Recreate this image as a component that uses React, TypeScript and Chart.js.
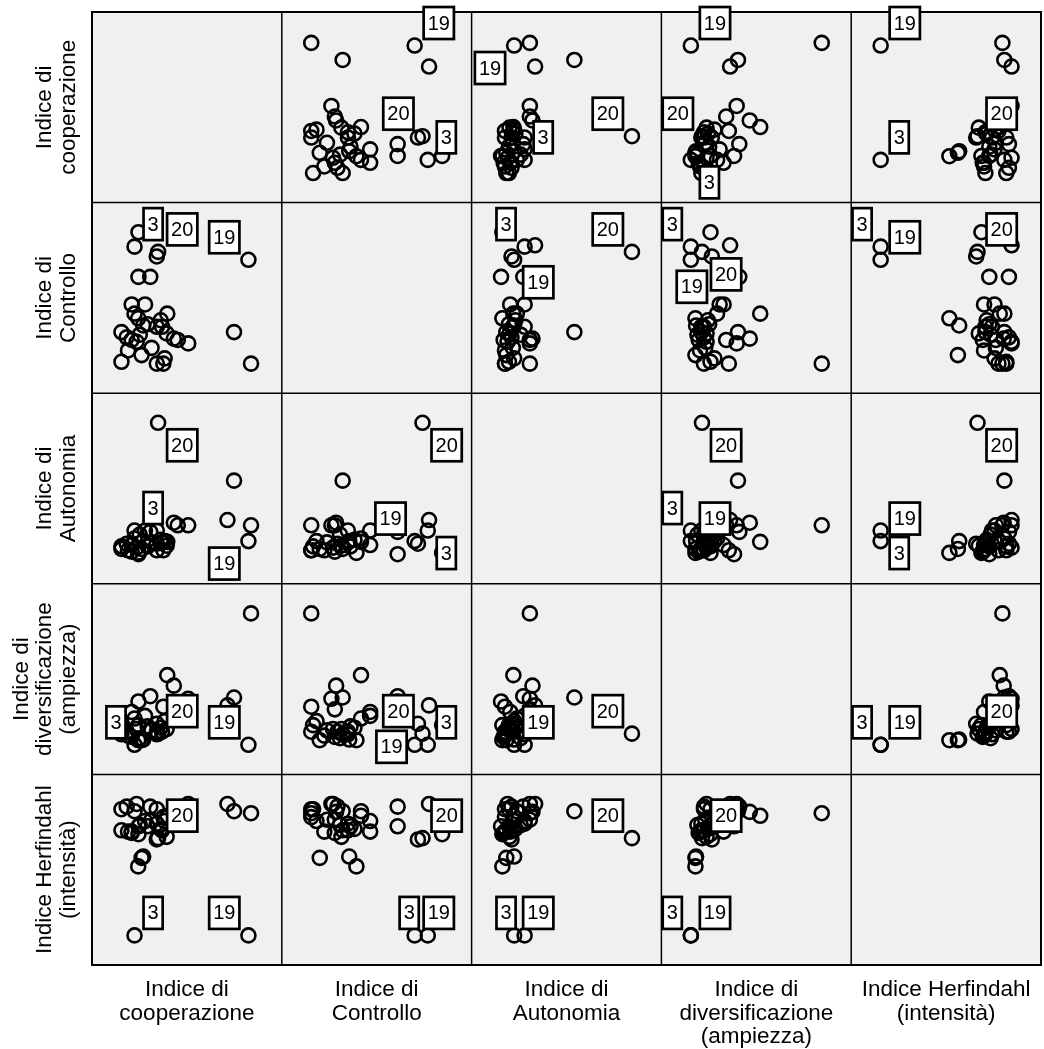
import React, { useEffect, useRef } from 'react';
import { Chart, registerables } from 'chart.js';

Chart.register(...registerables);

// ---- Data: one value per case (cases 1..36), normalised index values ----
const caseNumbers = [
  1, 2, 3, 4, 5, 6, 7, 8, 9, 10, 11, 12, 13, 14, 15, 16, 17, 18,
  19, 20, 21, 22, 23, 24, 25, 26, 27, 28, 29, 30, 31, 32, 33, 34, 35, 36,
];

const cooperazione = [
  0.51, 0.32, 0.10, 0.345, 0.99, 0.154, 0.00, 0.13, 0.31, 0.128, 0.27, 0.86,
  0.04, 0.18, 0.43, 0.00, 0.22, 0.166, 0.97, 0.28, 0.35, 0.33, 0.116, 0.13,
  0.40, 0.27, 0.078, 0.10, 0.81, 0.27, 0.078, 0.20, 0.05, 0.23, 0.14, 0.30,
];

const controllo = [
  0.154, 0.00, 0.89, 0.23, 0.00, 0.065, 0.24, 1.00, 0.28, 0.345, 0.28, 0.24,
  0.20, 0.45, 0.18, 0.014, 0.66, 0.29, 0.79, 0.85, 0.38, 0.04, 0.166, 0.66,
  0.19, 0.815, 0.18, 0.38, 0.90, 0.00, 0.45, 0.30, 0.10, 0.12, 0.22, 0.33,
];

const autonomia = [
  0.22, 0.03, 0.18, 0.065, 0.22, 0.04, 0.04, 0.01, 0.09, 0.01, 0.18, 0.56,
  0.08, 0.18, 0.22, 0.06, 0.17, 0.10, 0.10, 1.00, 0.094, 0.10, 0.05, 0.00,
  0.24, 0.08, 0.02, 0.12, 0.26, 0.03, 0.07, 0.06, 0.03, 0.09, 0.15, 0.11,
];

const diversificazione = [
  0.35, 0.29, 0.00, 0.12, 1.00, 0.035, 0.08, 0.15, 0.10, 0.035, 0.08, 0.36,
  0.10, 0.22, 0.27, 0.15, 0.37, 0.04, 0.00, 0.085, 0.53, 0.18, 0.12, 0.33,
  0.45, 0.16, 0.06, 0.20, 0.30, 0.10, 0.25, 0.14, 0.07, 0.11, 0.05, 0.13,
];

const herfindahl = [
  1.00, 0.90, 0.00, 0.75, 0.93, 0.59, 0.80, 0.77, 0.80, 0.525, 0.85, 0.945,
  0.98, 0.87, 0.88, 0.96, 0.98, 0.60, 0.00, 0.74, 0.91, 0.87, 1.00, 0.83,
  0.94, 0.73, 0.78, 0.945, 1.00, 0.96, 0.79, 0.83, 0.79, 0.88, 0.84, 0.81,
];

const labelledCases = [3, 19, 20];

const columnTitles = [
  ['Indice di', 'cooperazione', ''],
  ['Indice di', 'Controllo', ''],
  ['Indice di', 'Autonomia', ''],
  ['Indice di', 'diversificazione', '(ampiezza)'],
  ['Indice Herfindahl', '(intensità)', ''],
];

const rowTitles = [
  ['', 'Indice di', 'cooperazione'],
  ['', 'Indice di', 'Controllo'],
  ['', 'Indice di', 'Autonomia'],
  ['Indice di', 'diversificazione', '(ampiezza)'],
  ['', 'Indice Herfindahl', '(intensità)'],
];

// where each case label box sits relative to its point, per cell "row-col"
const labelPlacement: Record<string, Record<number, string>> = {
  '0-1': { 19: 'ur', 20: 'ul', 3: 'ur' },
  '0-2': { 19: 'll', 20: 'ul', 3: 'ur' },
  '0-3': { 19: 'ur', 20: 'ul', 3: 'lr' },
  '0-4': { 19: 'ur', 20: 'ur', 3: 'ur' },
  '1-0': { 3: 'ur', 20: 'ur', 19: 'ul' },
  '1-2': { 3: 'ul', 20: 'ul', 19: 'lr' },
  '1-3': { 3: 'ul', 20: 'lr', 19: 'd' },
  '1-4': { 3: 'ul', 19: 'ur', 20: 'ur' },
  '2-0': { 20: 'lr', 3: 'ur', 19: 'll' },
  '2-1': { 20: 'lr', 19: 'ul', 3: 'lr' },
  '2-3': { 20: 'lr', 3: 'ul', 19: 'ur' },
  '2-4': { 20: 'lr', 19: 'ur', 3: 'lr' },
  '3-0': { 3: 'ul', 20: 'ur', 19: 'ul' },
  '3-1': { 20: 'ul', 19: 'l', 3: 'ur' },
  '3-2': { 19: 'ur', 20: 'ul' },
  '3-4': { 3: 'ul', 19: 'ur', 20: 'ur' },
  '4-0': { 20: 'ur', 3: 'ur', 19: 'ul' },
  '4-1': { 20: 'ur', 3: 'ul', 19: 'ur' },
  '4-2': { 3: 'ul', 19: 'ur', 20: 'ul' },
  '4-3': { 3: 'ul', 19: 'ur', 20: 'ur' },
};

// ---- Styling ----
const FONT_FAMILY = "'Liberation Sans', Arial, Helvetica, sans-serif";
const CELL_BG = 'rgb(240,240,240)';
const AXIS_PAD = 0.225;
const LABEL_FONT_SIZE = 20;
const LABEL_BOX_H = 32;

const matrixPlugin = {
  id: 'scatterMatrix',
  beforeDatasetsDraw(chart: any) {
    const { ctx, chartArea } = chart;
    ctx.save();
    ctx.fillStyle = CELL_BG;
    for (let r = 0; r < 5; r++) {
      for (let c = 0; c < 5; c++) {
        const xs = chart.scales['x' + c];
        const ys = chart.scales['y' + r];
        ctx.fillRect(xs.left, ys.top, xs.right - xs.left, ys.bottom - ys.top);
      }
    }
    ctx.strokeStyle = '#000';
    ctx.lineWidth = 1.5;
    ctx.beginPath();
    for (let c = 1; c < 5; c++) {
      const x = chart.scales['x' + c].left;
      ctx.moveTo(x, chartArea.top);
      ctx.lineTo(x, chartArea.bottom);
    }
    for (let r = 1; r < 5; r++) {
      const y = chart.scales['y' + r].top;
      ctx.moveTo(chartArea.left, y);
      ctx.lineTo(chartArea.right, y);
    }
    ctx.stroke();
    ctx.lineWidth = 2;
    ctx.strokeRect(chartArea.left, chartArea.top, chartArea.right - chartArea.left, chartArea.bottom - chartArea.top);
    ctx.restore();
  },
  afterDatasetsDraw(chart: any) {
    const { ctx } = chart;
    ctx.save();
    ctx.font = `${LABEL_FONT_SIZE}px ${FONT_FAMILY}`;
    ctx.textAlign = 'center';
    ctx.textBaseline = 'middle';
    chart.data.datasets.forEach((ds: any, di: number) => {
      const place = labelPlacement[ds.cell] || {};
      const meta = chart.getDatasetMeta(di);
      labelledCases.forEach((caseNo) => {
        const dir = place[caseNo];
        if (!dir) return;
        const idx = caseNumbers.indexOf(caseNo);
        const pt = meta.data[idx];
        if (!pt) return;
        const text = String(caseNo);
        const w = ctx.measureText(text).width + 8;
        const h = LABEL_BOX_H;
        const gx = w / 2 + 9;
        const gy = h / 2 + 6.5;
        let dx = 0;
        let dy = 0;
        if (dir === 'ur') { dx = gx; dy = -gy; }
        else if (dir === 'ul') { dx = -gx; dy = -gy; }
        else if (dir === 'lr') { dx = gx; dy = gy; }
        else if (dir === 'll') { dx = -gx; dy = gy; }
        else if (dir === 'l') { dx = -(w / 2 + 8); dy = 2; }
        else if (dir === 'd') { dx = 1; dy = h / 2 + 11; }
        const cx = pt.x + dx;
        const cy = pt.y + dy;
        ctx.fillStyle = '#fff';
        ctx.fillRect(cx - w / 2, cy - h / 2, w, h);
        ctx.lineWidth = 2.7;
        ctx.strokeStyle = '#000';
        ctx.strokeRect(cx - w / 2, cy - h / 2, w, h);
        ctx.fillStyle = '#000';
        ctx.fillText(text, cx, cy + 1);
      });
    });
    ctx.restore();
  },
};

export default function App() {
  const canvasRef = useRef<HTMLCanvasElement>(null);

  useEffect(() => {
    const canvas = canvasRef.current;
    if (!canvas) return;
    const variables = [cooperazione, controllo, autonomia, diversificazione, herfindahl];

    const datasets: any[] = [];
    for (let r = 0; r < 5; r++) {
      for (let c = 0; c < 5; c++) {
        if (r === c) continue;
        datasets.push({
          label: `${r}-${c}`,
          cell: `${r}-${c}`,
          data: caseNumbers.map((_, i) => ({ x: variables[c][i], y: variables[r][i] })),
          xAxisID: 'x' + c,
          yAxisID: 'y' + r,
          showLine: false,
          pointStyle: 'circle',
          pointRadius: 7,
          pointHoverRadius: 7,
          pointBorderWidth: 2.6,
          pointBorderColor: '#000',
          pointBackgroundColor: 'rgba(0,0,0,0)',
        });
      }
    }

    const titleFont = { family: FONT_FAMILY, size: 22.5, lineHeight: '23.5px' };
    const scales: any = {};
    for (let c = 0; c < 5; c++) {
      scales['x' + c] = {
        type: 'linear',
        axis: 'x',
        position: 'bottom',
        stack: 'cols',
        stackWeight: 1,
        weight: c,
        min: -AXIS_PAD,
        max: 1 + AXIS_PAD,
        ticks: { display: false },
        grid: { display: false, drawTicks: false },
        border: { display: false },
        title: {
          display: true,
          text: columnTitles[c],
          color: '#000',
          font: titleFont,
          padding: { top: 13.5, bottom: 0 },
        },
      };
    }
    for (let r = 0; r < 5; r++) {
      scales['y' + r] = {
        type: 'linear',
        axis: 'y',
        position: 'left',
        stack: 'rows',
        stackWeight: 1,
        weight: 10 - r,
        min: -AXIS_PAD,
        max: 1 + AXIS_PAD,
        ticks: { display: false },
        grid: { display: false, drawTicks: false },
        border: { display: false },
        title: {
          display: true,
          text: rowTitles[r],
          color: '#000',
          font: titleFont,
          padding: { top: 10, bottom: 11.5 },
        },
      };
    }

    const chart = new Chart(canvas, {
      type: 'scatter',
      data: { datasets },
      options: {
        responsive: false,
        animation: false,
        devicePixelRatio: 1,
        events: [],
        layout: { autoPadding: false, padding: { top: 12, right: 3, left: 0, bottom: 0 } },
        plugins: { legend: { display: false }, tooltip: { enabled: false } },
        scales,
      },
      plugins: [matrixPlugin],
    } as any);

    return () => chart.destroy();
  }, []);

  return (
    <canvas
      ref={canvasRef}
      width={1044}
      height={1049}
      style={{ position: 'absolute', left: 0, top: 0, display: 'block' }}
    />
  );
}
